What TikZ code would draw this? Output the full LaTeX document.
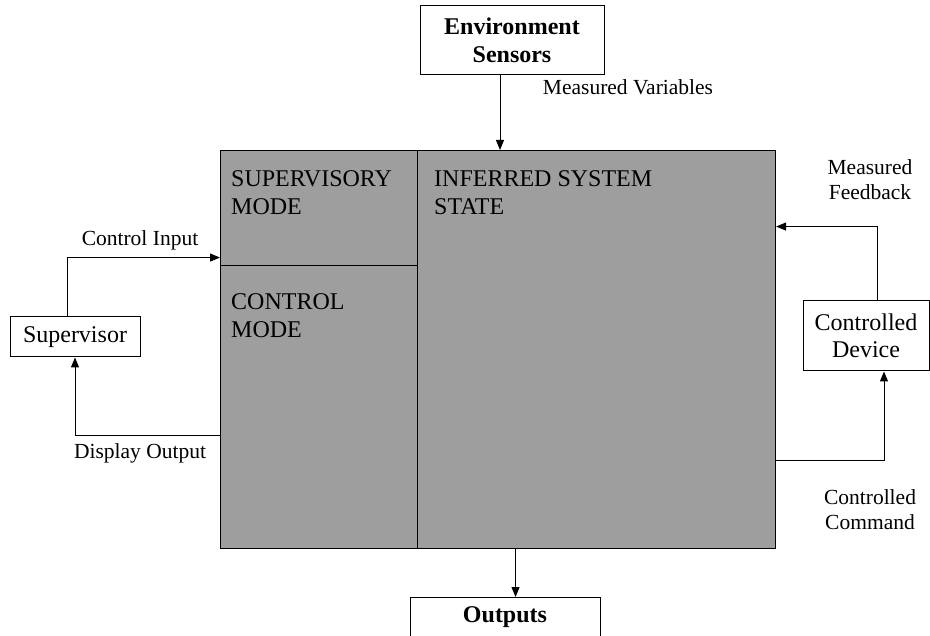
\documentclass[tikz,border=0pt]{standalone}
\usepackage{fontspec}
\setmainfont{Liberation Serif}
\usetikzlibrary{arrows.meta,calc}
\definecolor{panelgray}{RGB}{158,158,158}
\tikzset{
  panel/.style={draw=black, line width=1.1pt, fill=panelgray, anchor=north west, inner sep=0pt},
  box/.style={draw=black, line width=1pt, fill=white, align=center, inner sep=0pt},
  paneltext/.style={anchor=north west, align=left, font=\fontsize{24}{28}\selectfont, inner sep=0pt},
  lbl/.style={align=center, font=\fontsize{21.5}{25}\selectfont, inner sep=0pt},
  arr/.style={line width=1pt, -{Triangle[length=10pt,width=8pt]}},
}
\begin{document}
\begin{tikzpicture}[x=1pt,y=-1pt]
\useasboundingbox (0,0) rectangle (930,636);
% central block: three panels
\node[panel, minimum width=197pt, minimum height=115pt] (sup) at (220,150) {};
\node[panel, minimum width=197pt, minimum height=283pt] (ctl) at (220,265) {};
\node[panel, minimum width=358pt, minimum height=398pt] (inf) at (417,150) {};
\node[paneltext] (suptxt) at (231,170) {SUPERVISORY\\MODE};
\node[paneltext] (ctltxt) at (231,293) {CONTROL\\MODE};
\node[paneltext] (inftxt) at (434,170) {INFERRED SYSTEM\\STATE};
% surrounding boxes
\node[box, minimum width=184pt, minimum height=69pt, font=\bfseries\fontsize{24}{28}\selectfont] (env) at (512,40) {Environment\\Sensors};
\node[box, minimum width=130pt, minimum height=40pt, font=\fontsize{24}{28}\selectfont] (svr) at (75,337) {Supervisor};
\node[box, minimum width=126pt, minimum height=70pt, font=\fontsize{24}{27}\selectfont] (dev) at (866,336) {Controlled\\Device};
\node[box, minimum width=190pt, minimum height=40pt, font=\bfseries\fontsize{24}{28}\selectfont, anchor=north] (out) at (505,597) {Outputs};
% connector labels
\node[lbl] (lmv) at (628,87) {Measured Variables};
\node[lbl] (lci) at (140,240) {Control Input};
\node[lbl] (ldo) at (140,453) {Display Output};
\node[lbl] (lmf) at (870,180) {Measured\\Feedback};
\node[lbl] (lcc) at (870,510) {Controlled\\Command};
% connector end points on the boxes
\coordinate (envout) at ($(env.south)+(-12,0)$);
\coordinate (svrout) at ($(svr.north)+(-8,0)$);
\coordinate (supin) at ($(sup.west)+(0,49.5)$);
\coordinate (ctlout) at ($(ctl.west)+(0,28.5)$);
\coordinate (devout) at ($(dev.north)+(11,0)$);
\coordinate (infin) at ($(inf.east)+(0,-123)$);
\coordinate (infout) at ($(inf.east)+(0,111)$);
\coordinate (devin) at ($(dev.south)+(18,0)$);
\coordinate (infbot) at ($(inf.south)+(-81,0)$);
% connectors
\draw[arr] (envout) -- (envout |- inf.north);
\draw[arr] (svrout) |- (supin);
\draw[arr] (ctlout) -| (svr.south);
\draw[arr] (devout) |- (infin);
\draw[arr] (infout) -| (devin);
\draw[arr] (infbot) -- (infbot |- out.north);
\end{tikzpicture}
\end{document}
